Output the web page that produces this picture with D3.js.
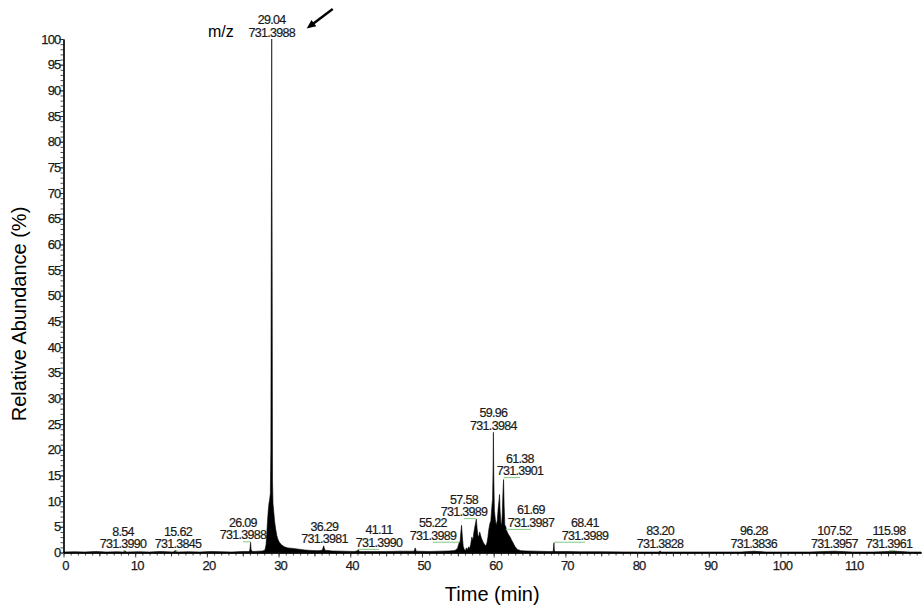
<!DOCTYPE html>
<html>
<head>
<meta charset="utf-8">
<script src="https://cdn.jsdelivr.net/npm/d3@7"></script>
<style>
  body { margin: 0; background: #fff; }
  text { font-family: Arial, "Liberation Sans", sans-serif; }
</style>
</head>
<body>
<svg id="chart" width="924" height="611"></svg>
<script>
// Extracted ion chromatogram, m/z 731.39: retention time (min) and relative abundance (%)
const traceTime = [
  0, 1.5, 3, 4.5, 6, 7.5, 8.3, 8.54, 8.8, 10.5, 12, 13.5, 15.3, 15.62, 15.9, 17.5, 19, 20.5, 22, 23.5,
  25, 25.9, 26.0, 26.09, 26.17, 26.4, 27.2, 27.8, 28.1, 28.25, 28.35, 28.45, 28.55, 28.65, 28.75, 28.85,
  28.92, 28.96, 29.0, 29.04, 29.08, 29.11, 29.15, 29.22, 29.32, 29.45, 29.6, 29.75, 29.9, 30.1, 30.4,
  30.8, 31.3, 32.0, 32.8, 33.6, 34.5, 35.5, 36.1, 36.29, 36.45, 37.5, 39, 40.5, 41.0, 41.11, 41.25, 43,
  45, 47, 48.9, 49.05, 49.2, 51, 52.5, 53.8, 54.6, 54.95, 55.12, 55.22, 55.3, 55.4, 55.52, 55.62, 55.75,
  55.9, 56.05, 56.2, 56.35, 56.5, 56.65, 56.8, 56.95, 57.1, 57.25, 57.4, 57.58, 57.7, 57.8, 57.9, 58.05,
  58.2, 58.35, 58.5, 58.7, 58.9, 59.05, 59.2, 59.3, 59.45, 59.6, 59.75, 59.85, 59.92, 59.96, 60.01, 60.1,
  60.22, 60.35, 60.5, 60.62, 60.75, 60.82, 60.9, 61.0, 61.1, 61.2, 61.3, 61.38, 61.46, 61.55, 61.69, 61.8,
  61.92, 62.1, 62.3, 62.5, 62.7, 62.95, 63.3, 63.8, 64.5, 66, 67.5, 68.3, 68.36, 68.41, 68.46, 68.6, 70,
  72, 75, 78, 81, 83.0, 83.2, 83.4, 86, 89, 92, 94.5, 96.28, 98, 101, 104, 107.52, 110, 113, 115.98, 118,
  119.6
];
const traceAbundance = [
  0.1, 0.15, 0.1, 0.2, 0.1, 0.15, 0.1, 0.35, 0.1, 0.15, 0.1, 0.2, 0.1, 0.4, 0.1, 0.15, 0.1, 0.2, 0.15, 0.1,
  0.2, 0.2, 0.6, 2.0, 0.5, 0.2, 0.25, 0.3, 0.5, 1.5, 3.5, 6.0, 8.0, 9.5, 10.3, 11.5,
  20, 49, 72, 100, 72, 49, 14, 9.5, 8.0, 6.0, 4.5, 3.3, 2.6, 2.0, 1.5,
  1.1, 0.9, 0.8, 0.65, 0.5, 0.4, 0.35, 0.45, 1.3, 0.45, 0.3, 0.25, 0.2, 0.3, 0.6, 0.2, 0.2,
  0.2, 0.25, 0.25, 0.9, 0.25, 0.2, 0.25, 0.3, 0.4, 0.8, 1.6, 2.1, 1.7, 3.6, 5.3, 3.2, 1.2,
  0.6, 0.4, 0.9, 0.6, 1.1, 0.8, 1.6, 3.0, 2.4, 4.0, 5.2, 6.5, 4.5, 3.3, 3.0, 4.0,
  3.2, 2.6, 2.1, 1.6, 1.3, 1.8, 3.0, 4.3, 5.5, 6.2, 9.0, 10.5, 17, 23.4, 15, 8.2,
  6.5, 5.3, 6.2, 8.5, 10.2, 11.3, 8.0, 5.8, 5.3, 7.5, 12, 14.2, 9, 5.4, 5.0, 4.3,
  3.9, 3.4, 3.0, 2.4, 1.9, 1.2, 0.6, 0.35, 0.3, 0.25, 0.2, 0.2, 1.2, 1.9, 0.4, 0.2, 0.2,
  0.15, 0.15, 0.12, 0.1, 0.1, 0.3, 0.1, 0.1, 0.1, 0.1, 0.1, 0.25, 0.1, 0.1, 0.1, 0.25, 0.1, 0.1, 0.25, 0.1,
  0.1
];

// Labelled peaks: retention time and measured m/z
const peakTimes = [8.54, 15.62, 26.09, 29.04, 36.29, 41.11, 55.22, 57.58, 59.96, 61.38, 61.69, 68.41, 83.20, 96.28, 107.52, 115.98];
const peakRtText = ["8.54", "15.62", "26.09", "29.04", "36.29", "41.11", "55.22", "57.58", "59.96", "61.38", "61.69", "68.41", "83.20", "96.28", "107.52", "115.98"];
const peakMz = ["731.3990", "731.3845", "731.3988", "731.3988", "731.3981", "731.3990", "731.3989", "731.3989",
                "731.3984", "731.3901", "731.3987", "731.3989", "731.3828", "731.3836", "731.3957", "731.3961"];
// Where each label sits, in axis units (label centre time, label level in %)
const labelTimes = [8.3, 15.97, 25.03, 29.04, 36.4, 44.0, 51.53, 55.86, 59.96, 63.67, 65.2, 72.73, 83.20, 96.28, 107.52, 115.13];
const labelLevels = [0.3, 0.3, 2.1, 100, 1.3, 0.6, 2.0, 6.6, 23.4, 14.6, 4.5, 2.0, 0.4, 0.4, 0.4, 0.4];

// Axis ticks
const xTickValues = [0, 10, 20, 30, 40, 50, 60, 70, 80, 90, 100, 110];
const yTickValues = [0, 5, 10, 15, 20, 25, 30, 35, 40, 45, 50, 55, 60, 65, 70, 75, 80, 85, 90, 95, 100];

const svg = d3.select("#chart");

const x = d3.scaleLinear().domain([0, 119.6]).range([63.5, 921]);
const y = d3.scaleLinear().domain([0, 100]).range([552.5, 39]);

// Chromatogram trace, filled to the baseline
const trace = traceTime.map((t, i) => ({ t, a: traceAbundance[i] }));
const area = d3.area()
  .x(d => x(d.t))
  .y0(y(0))
  .y1(d => y(d.a));
svg.append("path")
  .datum(trace)
  .attr("d", area)
  .attr("fill", "#000")
  .attr("stroke", "#000")
  .attr("stroke-width", 0.6)
  .attr("stroke-linejoin", "round");

// Axes: minor ticks every unit, major ticks labelled
const xMinor = d3.axisBottom(x).tickValues(d3.range(0, 120, 1)).tickSize(3).tickSizeOuter(0).tickFormat("");
const xMid = d3.axisBottom(x).tickValues(d3.range(5, 120, 10)).tickSize(4).tickSizeOuter(0).tickFormat("");
const xMajor = d3.axisBottom(x).tickValues(xTickValues).tickSize(5).tickSizeOuter(0).tickPadding(3);
const yMinor = d3.axisLeft(y).tickValues(d3.range(0, 101, 1)).tickSize(3).tickSizeOuter(0).tickFormat("");
const yMajor = d3.axisLeft(y).tickValues(yTickValues).tickSize(4).tickSizeOuter(0).tickPadding(-1);

function styleAxis(g) {
  g.selectAll("path.domain").attr("stroke", "#000").attr("stroke-width", 1.2);
  g.selectAll(".tick line").attr("stroke", "#222").attr("stroke-width", 0.8);
  g.selectAll(".tick text")
    .attr("fill", "#1a1a1a")
    .attr("stroke", "#1a1a1a")
    .attr("stroke-width", 0.25)
    .style("font-size", "13px")
    .style("font-family", "Arial, 'Liberation Sans', sans-serif")
    .style("letter-spacing", "-0.8px");
}

svg.append("g").attr("transform", `translate(0,${y(0)})`).call(xMinor).call(styleAxis);
svg.append("g").attr("transform", `translate(0,${y(0)})`).call(xMid).call(styleAxis);
svg.append("g").attr("transform", `translate(0,${y(0)})`).call(xMajor).call(styleAxis)
  .selectAll(".tick text").attr("dx", "1.5");
svg.append("g").attr("transform", `translate(${x(0)},0)`).call(yMinor).call(styleAxis);
svg.append("g").attr("transform", `translate(${x(0)},0)`).call(yMajor).call(styleAxis);

// Peak labels with leader lines
const labels = peakTimes.map((t, i) => ({
  t, rt: peakRtText[i], mz: peakMz[i], lt: labelTimes[i], lv: labelLevels[i]
}));

const lab = svg.append("g");
labels.forEach(d => {
  const px = x(d.t), lx = x(d.lt), ly = y(d.lv);
  if (Math.abs(lx - px) > 1.5) {
    lab.append("line")
      .attr("x1", px).attr("x2", lx)
      .attr("y1", ly).attr("y2", ly)
      .attr("stroke", "#8ccf8c").attr("stroke-width", 1.1);
  }
  const t = lab.append("text")
    .attr("x", lx).attr("y", ly - 2.5)
    .attr("text-anchor", "middle")
    .attr("fill", "#1a1a1a")
    .attr("stroke", "#1a1a1a")
    .attr("stroke-width", 0.2)
    .style("font-size", "12.5px")
    .style("letter-spacing", "-0.7px");
  t.append("tspan").attr("x", lx).attr("dy", "-12.5").text(d.rt);
  t.append("tspan").attr("x", lx).attr("dy", "12.5").text(d.mz);
});

// Annotation for the base peak
const baseX = x(29.04), baseY = y(100) - 2.5;
svg.append("text")
  .attr("x", baseX - 38).attr("y", baseY)
  .attr("text-anchor", "end")
  .attr("fill", "#000")
  .style("font-size", "16px")
  .text("m/z");

const tail = [baseX + 61, 9], tip = [baseX + 35, baseY - 8];
const dx = tip[0] - tail[0], dy = tip[1] - tail[1];
const len = Math.hypot(dx, dy), ux = dx / len, uy = dy / len;
const headLen = 9, headW = 4;
const bx = tip[0] - ux * headLen, by = tip[1] - uy * headLen;
svg.append("line")
  .attr("x1", tail[0]).attr("y1", tail[1])
  .attr("x2", bx + ux * 1).attr("y2", by + uy * 1)
  .attr("stroke", "#000").attr("stroke-width", 2.4);
svg.append("path")
  .attr("d", `M${tip[0]},${tip[1]}L${bx - uy * headW},${by + ux * headW}L${bx + uy * headW},${by - ux * headW}Z`)
  .attr("fill", "#000");

// Axis titles
svg.append("text")
  .attr("x", x(0) + (921 - x(0)) / 2).attr("y", 601)
  .attr("text-anchor", "middle")
  .attr("fill", "#000")
  .style("font-size", "20px")
  .text("Time (min)");

svg.append("text")
  .attr("transform", "translate(26,314) rotate(-90)")
  .attr("text-anchor", "middle")
  .attr("fill", "#000")
  .style("font-size", "20px")
  .text("Relative Abundance (%)");
</script>
</body>
</html>
